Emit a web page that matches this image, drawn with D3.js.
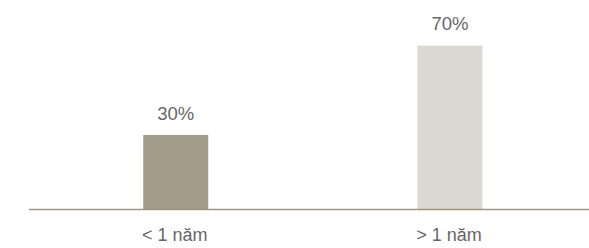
<!DOCTYPE html>
<html><head><meta charset="utf-8">
<script src="https://cdn.jsdelivr.net/npm/d3@7"></script>
<style>html,body{margin:0;padding:0;background:#fff;}svg{display:block;}</style>
</head><body>
<script>
const categories = ["< 1 năm", "> 1 năm"];
const values = [30, 70];
const valueLabels = ["30%", "70%"];
const barColors = ["#a39b8a", "#dbd8d1"];

const W = 589, H = 248;
const baseY = 209.5;
const svg = d3.select("body").append("svg").attr("width", W).attr("height", H);

const x = d3.scaleBand().domain(categories).range([41.8, 583.9]).paddingInner(0.763).paddingOuter(0.37);
const y = d3.scaleLinear().domain([0, 70]).range([202, 45.7]);

svg.append("g").selectAll("rect").data(values).join("rect")
  .attr("x", (d, i) => x(categories[i]))
  .attr("width", x.bandwidth())
  .attr("y", d => y(d))
  .attr("height", d => baseY - y(d))
  .attr("fill", (d, i) => barColors[i]);

svg.append("line").attr("x1", 29).attr("x2", W).attr("y1", baseY).attr("y2", baseY)
  .attr("stroke", "#9d9683").attr("stroke-width", 1.5);

svg.append("g").selectAll("text").data(values).join("text")
  .attr("x", (d, i) => x(categories[i]) + x.bandwidth() / 2)
  .attr("y", d => y(d) - 15.5)
  .attr("text-anchor", "middle")
  .attr("font-family", "Liberation Sans, Arial, sans-serif")
  .attr("font-size", 18.5)
  .attr("fill", "#666")
  .text((d, i) => valueLabels[i]);

svg.append("g").selectAll("text").data(categories).join("text")
  .attr("x", d => x(d) + x.bandwidth() / 2 - 1)
  .attr("y", 241)
  .attr("text-anchor", "middle")
  .attr("font-family", "Liberation Sans, Arial, sans-serif")
  .attr("font-size", 18)
  .attr("fill", "#666")
  .text(d => d);
</script>
</body></html>
